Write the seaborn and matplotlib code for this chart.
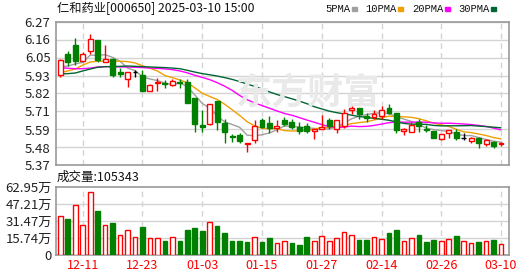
import numpy as np
import pandas as pd
import matplotlib
matplotlib.use("Agg")
import matplotlib.pyplot as plt
import seaborn as sns

# ---------------- data ----------------
dates = ["12-06", "12-09", "12-10", "12-11", "12-12", "12-13", "12-16", "12-17", "12-18", "12-19",
         "12-20", "12-23", "12-24", "12-25", "12-26", "12-27", "12-30", "12-31", "01-02", "01-03",
         "01-06", "01-07", "01-08", "01-09", "01-10", "01-13", "01-14", "01-15", "01-16", "01-17",
         "01-20", "01-21", "01-22", "01-23", "01-24", "01-27", "02-05", "02-06", "02-07", "02-10",
         "02-11", "02-12", "02-13", "02-14", "02-17", "02-18", "02-19", "02-20", "02-21", "02-24",
         "02-25", "02-26", "02-27", "02-28", "03-03", "03-04", "03-05", "03-06", "03-07", "03-10"]

open_ = [5.938, 6.066, 6.123, 6.024, 6.090, 6.155, 6.020, 6.039, 5.955, 5.913,
         5.953, 5.934, 5.835, 5.888, 5.886, 5.875, 5.894, 5.890, 5.794, 5.624,
         5.626, 5.773, 5.636, 5.552, 5.556, 5.500, 5.529, 5.651, 5.636, 5.602,
         5.655, 5.638, 5.609, 5.617, 5.584, 5.598, 5.651, 5.598, 5.617, 5.718,
         5.731, 5.676, 5.672, 5.678, 5.731, 5.697, 5.586, 5.580, 5.640, 5.598,
         5.582, 5.535, 5.573, 5.577, 5.540, 5.519, 5.540, 5.504, 5.514, 5.500]
high = [6.035, 6.085, 6.167, 6.079, 6.197, 6.158, 6.123, 6.045, 5.980, 5.953,
        5.966, 5.966, 5.881, 5.920, 5.903, 5.911, 5.911, 5.911, 5.794, 5.718,
        5.756, 5.773, 5.661, 5.567, 5.573, 5.508, 5.651, 5.665, 5.676, 5.651,
        5.670, 5.659, 5.638, 5.636, 5.596, 5.686, 5.665, 5.651, 5.722, 5.739,
        5.731, 5.699, 5.718, 5.739, 5.751, 5.697, 5.604, 5.640, 5.661, 5.624,
        5.582, 5.567, 5.588, 5.598, 5.573, 5.546, 5.546, 5.535, 5.518, 5.512]
low = [5.924, 5.993, 6.001, 6.016, 6.070, 6.018, 6.018, 5.924, 5.924, 5.860,
       5.924, 5.835, 5.835, 5.835, 5.854, 5.869, 5.857, 5.762, 5.575, 5.575,
       5.620, 5.588, 5.508, 5.514, 5.510, 5.451, 5.508, 5.604, 5.571, 5.575,
       5.613, 5.594, 5.567, 5.571, 5.531, 5.594, 5.598, 5.571, 5.604, 5.689,
       5.660, 5.640, 5.657, 5.660, 5.689, 5.571, 5.560, 5.580, 5.575, 5.575,
       5.542, 5.525, 5.542, 5.529, 5.529, 5.508, 5.477, 5.487, 5.477, 5.487]
close = [6.033, 6.018, 6.022, 6.068, 6.165, 6.030, 6.035, 5.938, 5.944, 5.953,
         5.953, 5.835, 5.871, 5.894, 5.877, 5.900, 5.886, 5.762, 5.630, 5.609,
         5.752, 5.640, 5.577, 5.546, 5.521, 5.506, 5.617, 5.612, 5.604, 5.617,
         5.628, 5.611, 5.584, 5.582, 5.596, 5.609, 5.617, 5.651, 5.699, 5.728,
         5.691, 5.668, 5.691, 5.718, 5.699, 5.592, 5.594, 5.620, 5.615, 5.592,
         5.542, 5.567, 5.588, 5.540, 5.540, 5.540, 5.508, 5.525, 5.487, 5.506]
prev_close_before = 5.939

volume = [364000, 333000, 465000, 281000, 584000, 403000, 281000, 293000, 189000, 235000,
          171000, 257000, 162000, 153000, 128000, 171000, 128000, 229000, 248000, 220000,
          309000, 266000, 202000, 128000, 128000, 119000, 171000, 119000, 156000, 107000,
          125000, 110000, 92000, 165000, 134000, 180000, 134000, 153000, 217000, 189000,
          138000, 138000, 171000, 144000, 202000, 229000, 125000, 153000, 183000, 119000,
          138000, 134000, 144000, 174000, 134000, 107000, 119000, 134000, 138000, 105343]

ma5_head = [5.989, 5.993, 6.006, 6.016]
ma10_head = [5.951, 5.962, 5.974, 5.999, 6.018, 6.023, 6.023, 6.023, 6.023]
ma20_head = [5.983, 5.979, 5.976, 5.976, 5.980, 5.987, 5.989, 5.989, 5.987, 5.987,
             5.985, 5.983, 5.980, 5.978, 5.975, 5.970, 5.962, 5.950, 5.935]
ma30_head = [5.943, 5.945, 5.949, 5.962, 5.974, 5.985, 5.989, 5.989, 5.991, 5.993,
             5.991, 5.989, 5.987, 5.985, 5.983, 5.980, 5.976, 5.966, 5.955, 5.945,
             5.938, 5.930, 5.920, 5.909, 5.895, 5.880, 5.865, 5.848, 5.830]

price_ticks = [5.37, 5.48, 5.59, 5.71, 5.82, 5.93, 6.05, 6.16, 6.27]
vol_tick_labels = ["0", "15.74万", "31.47万", "47.21万", "62.95万"]
vol_max = 629500
title_text = "仁和药业[000650] 2025-03-10 15:00"
vol_text = "成交量:105343"
watermark = "东方财富"
ma_names = ["5PMA", "10PMA", "20PMA", "30PMA"]
ma_colors = ["#a0a0a0", "#f0a000", "#ff00ff", "#006633"]

# ---------------- frame ----------------
df = pd.DataFrame({"date": dates, "open": open_, "high": high, "low": low,
                   "close": close, "volume": volume})
df["idx"] = np.arange(len(df))
n = len(df)

def ma_series(head, w):
    roll = df["close"].rolling(w).mean().to_numpy()
    roll[:len(head)] = head
    return roll

mas = [ma_series(ma5_head, 5), ma_series(ma10_head, 10),
       ma_series(ma20_head, 20), ma_series(ma30_head, 30)]

prev = np.r_[prev_close_before, df["close"].to_numpy()[:-1]]
df["vol_up"] = df["close"].to_numpy() >= prev

sns.set_theme(style="white")
CJK = ["Noto Sans CJK SC", "DejaVu Sans"]
plt.rcParams["font.family"] = CJK

RED = "#ff0000"
GREEN = "#008000"
GRID = "#d4d4d4"
FRAME = "#9a9a9a"

fig = plt.figure(figsize=(5.30, 2.76), dpi=100)
ax = fig.add_axes([56 / 530, 1 - 165 / 276, 453 / 530, 143 / 276])
axv = fig.add_axes([56 / 530, 1 - 255 / 276, 453 / 530, 68 / 276])

xlim = (-0.58, n - 1 + 1.07)
label_idx = [i for i in range(n) if i % 8 == 3]

# ---- price panel ----
ax.set_ylim(5.37, 6.27)
for t in np.linspace(5.37, 6.27, 9):
    ax.axhline(t, color=GRID, lw=1, zorder=0)
for i in label_idx:
    ax.axvline(i, color=GRID, lw=1, ls=(0, (4, 3)), zorder=0)

fig.text(308 / 530, 1 - 93 / 276, watermark, fontsize=26, color="#e9e9e9", ha="center",
         va="center", family=CJK, fontweight="bold", zorder=0.5)

for ma, c in zip(mas, ma_colors):
    sns.lineplot(x=df["idx"], y=ma, ax=ax, color=c, lw=1, legend=False, zorder=2)

body_w = 0.66
for _, r in df.iterrows():
    o, c, h, l, i = r["open"], r["close"], r["high"], r["low"], r["idx"]
    if c > o:
        col, face = RED, "white"
    elif c < o:
        col, face = GREEN, GREEN
    else:
        col, face = "#000000", "#000000"
    ax.vlines(i, l, h, color=col, lw=1, zorder=3)
    bot, top = min(o, c), max(o, c)
    hgt = max(top - bot, 0.0015)
    ax.bar(i, hgt, bottom=bot, width=body_w, facecolor=face, edgecolor=col,
           lw=1, zorder=4)

ax.set_xlim(*xlim)
ax.set_yticks(price_ticks)
ax.set_yticklabels([f"{t:.2f}" for t in price_ticks])
ax.set_xticks([])
ax.set_xlabel("")
ax.set_ylabel("")
ax.tick_params(axis="y", length=0, pad=4, labelsize=9.5, labelcolor="#222222")
for s in ax.spines.values():
    s.set_color(FRAME)
    s.set_linewidth(1.2)

# ---- volume panel ----
axv.set_ylim(0, vol_max)
for t in np.linspace(0, vol_max, 5)[1:-1]:
    axv.axhline(t, color=GRID, lw=1, zorder=0)
for i in label_idx:
    axv.axvline(i, color=GRID, lw=1, ls=(0, (4, 3)), zorder=0)

up = df[df["vol_up"]]
dn = df[~df["vol_up"]]
sns.barplot(data=up, x="idx", y="volume", native_scale=True, ax=axv, color="white",
            edgecolor=RED, linewidth=1, width=0.62, errorbar=None, saturation=1, zorder=3)
sns.barplot(data=dn, x="idx", y="volume", native_scale=True, ax=axv, color=GREEN,
            edgecolor=GREEN, linewidth=1, width=0.62, errorbar=None, saturation=1, zorder=3)

axv.set_xlim(*xlim)
axv.set_ylim(0, vol_max)
axv.set_yticks(np.linspace(0, vol_max, 5))
axv.set_yticklabels(vol_tick_labels)
axv.set_xticks(label_idx)
axv.set_xticklabels([dates[i] for i in label_idx])
axv.set_xlabel("")
axv.set_ylabel("")
axv.tick_params(axis="y", length=0, pad=3, labelsize=9.5, labelcolor="#222222")
axv.tick_params(axis="x", length=0, pad=3, labelsize=9, labelcolor=RED)
for lab in axv.get_xticklabels() + axv.get_yticklabels():
    lab.set_family(CJK)
for s in axv.spines.values():
    s.set_color(FRAME)
    s.set_linewidth(1.2)

# ---- header texts ----
fig.text(57 / 530, 1 - 9 / 276, title_text, fontsize=8.8, color="#111111",
         ha="left", va="center", family=CJK)
fig.text(57 / 530, 1 - 177 / 276, vol_text, fontsize=9, color="#111111",
         ha="left", va="center", family=CJK)

# legend (text + colour swatch)
legend_x = [325, 365, 412, 458]
for name, c, x0 in zip(ma_names, ma_colors, legend_x):
    t = fig.text(x0 / 530, 1 - 9 / 276, name, fontsize=7.6, color="#111111",
                 ha="left", va="center", family=["Liberation Mono"])
    fig.canvas.draw()
    x_end = t.get_window_extent().x1
    fig.patches.append(plt.Rectangle(((x_end + 2) / 530, 1 - 10.5 / 276), 5 / 530, 3 / 276,
                                     transform=fig.transFigure, color=c, figure=fig))

fig.savefig("out.png", dpi=100)
